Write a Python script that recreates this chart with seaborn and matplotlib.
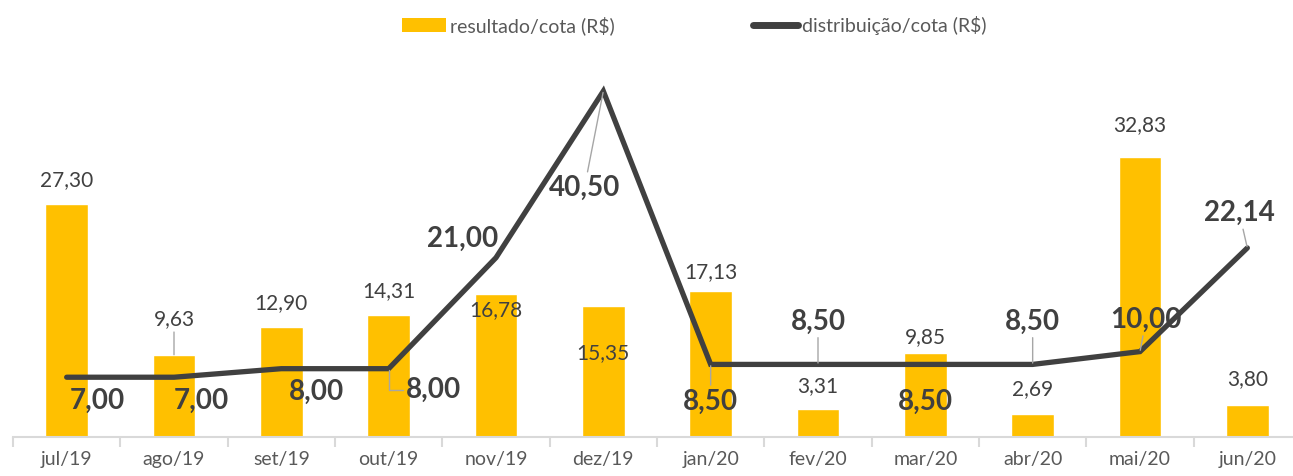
import numpy as np
import matplotlib
matplotlib.use("Agg")
import matplotlib.pyplot as plt
import seaborn as sns
from matplotlib.patches import Patch
from matplotlib.lines import Line2D

# dados
meses = ["jul/19", "ago/19", "set/19", "out/19", "nov/19", "dez/19",
         "jan/20", "fev/20", "mar/20", "abr/20", "mai/20", "jun/20"]
resultado = [27.30, 9.63, 12.90, 14.31, 16.78, 15.35, 17.13, 3.31, 9.85, 2.69, 32.83, 3.80]
distribuicao = [7.00, 7.00, 8.00, 8.00, 21.00, 40.50, 8.50, 8.50, 8.50, 8.50, 10.00, 22.14]

# deslocamento dos rótulos (pixels)
bar_dy = [24, 36, 24, 24, -16, -47, 19, 23, 16, 25, 32, 25]
bar_leader = [False, True] + [False] * 10
line_dx = [31, 27, 35, 45, -33, -19, 0, 0, 0, 0, 6, -8]
line_dy = [-24, -24, -23, -21, 19, -97, -37, 43, -37, 43, 32, 35]
line_leader = [False, False, False, True, False, True, True, True, False, True, True, True]

OURO = "#FFC000"
CINZA = "#404040"
CINZA_TXT = "#595959"
LEADER = "#A6A6A6"

sns.set_theme(style="white")
plt.rcParams["font.family"] = ["Lato", "DejaVu Sans"]

fig = plt.figure(figsize=(12.93, 4.76), dpi=100)
ax = fig.add_axes([13 / 1293, 39 / 476, 1288 / 1293, 384.3 / 476])

sns.barplot(x=meses, y=resultado, order=meses, color=OURO, saturation=1,
            width=0.4, ax=ax, zorder=2)
sns.lineplot(x=np.arange(len(meses)), y=distribuicao, color=CINZA, lw=3.8,
             ax=ax, zorder=3, solid_joinstyle="miter")

fmt = lambda v: f"{v:.2f}".replace(".", ",")

for i, v in enumerate(resultado):
    kw = {}
    if bar_leader[i]:
        kw["arrowprops"] = dict(arrowstyle="-", color=LEADER, lw=1, shrinkA=0, shrinkB=0)
    ax.annotate(fmt(v), xy=(i, v), xytext=(0, bar_dy[i]), textcoords="offset pixels",
                ha="center", va="center", fontsize=15, color=CINZA, zorder=5,
                annotation_clip=False, **kw)

for i, v in enumerate(distribuicao):
    kw = {}
    if line_leader[i]:
        cs = "angle,angleA=0,angleB=90,rad=0" if i == 3 else "arc3"
        kw["arrowprops"] = dict(arrowstyle="-", color=LEADER, lw=1, shrinkA=0,
                                shrinkB=1, connectionstyle=cs)
    ax.annotate(fmt(v), xy=(i, v), xytext=(line_dx[i], line_dy[i]),
                textcoords="offset pixels", ha="center", va="center",
                fontsize=20, fontweight="bold", color=CINZA, zorder=6,
                annotation_clip=False, **kw)

ax.set_xlim(-0.5, len(meses) - 0.5)
ax.set_ylim(0, 45)
ax.set_yticks([])
ax.set_xlabel("")
ax.set_ylabel("")
for s in ["top", "left", "right"]:
    ax.spines[s].set_visible(False)
ax.spines["bottom"].set_color("#D9D9D9")
ax.spines["bottom"].set_linewidth(1.5)

ax.set_xticks(np.arange(len(meses)))
ax.set_xticklabels(meses, fontsize=14, color=CINZA_TXT)
ax.set_xticks(np.arange(len(meses) + 1) - 0.5, minor=True)
ax.tick_params(axis="x", which="major", length=0, pad=10)
ax.tick_params(axis="x", which="minor", length=7, width=1.5, color="#D9D9D9",
               direction="out", bottom=True)

handles = [Patch(facecolor=OURO, edgecolor="none"),
           Line2D([0], [0], color=CINZA, lw=5, solid_capstyle="round")]
fig.legend(handles, ["resultado/cota (R$)", "distribuição/cota (R$)"],
           loc="center", bbox_to_anchor=(694 / 1293, 0.947), ncol=2, frameon=False,
           fontsize=14, labelcolor=CINZA_TXT, handlelength=2.3,
           handletextpad=0.2, columnspacing=7.1)

fig.savefig("out.png", dpi=100)
